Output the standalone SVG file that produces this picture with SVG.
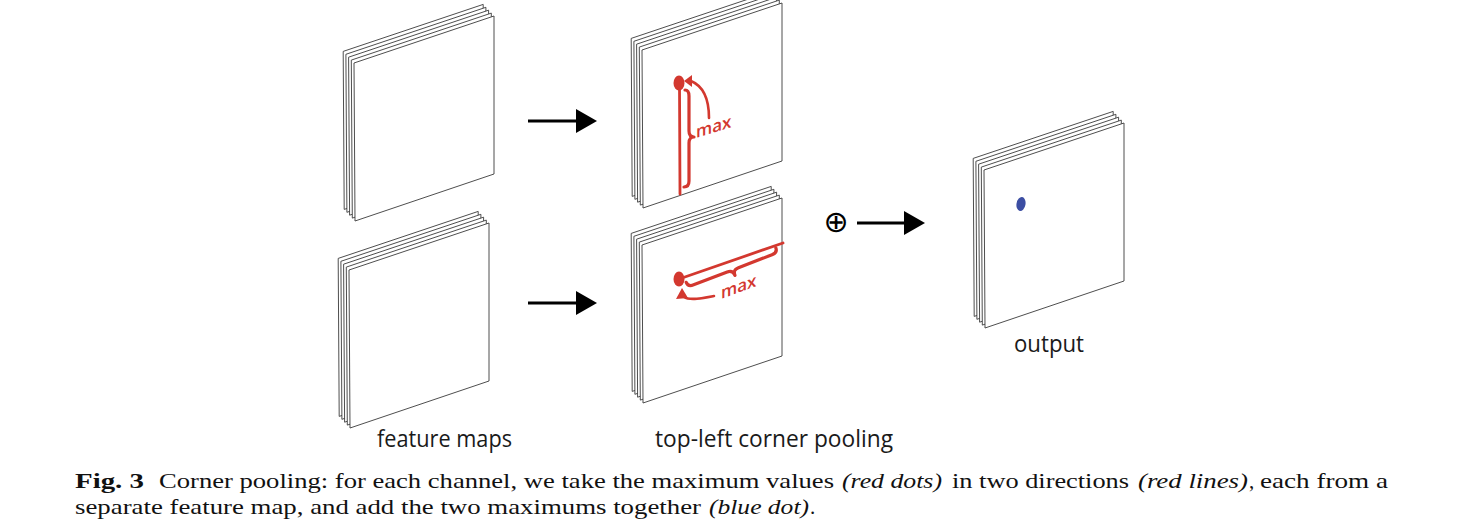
<svg xmlns="http://www.w3.org/2000/svg" xmlns:xlink="http://www.w3.org/1999/xlink" width="1461" height="531" viewBox="0 0 1461 531">
<style>
.sheet{fill:#fff;stroke:#3a3a3a;stroke-width:0.9;stroke-linejoin:miter}
.lbl{font-family:"Open Sans","Noto Sans","Liberation Sans",sans-serif;font-size:24px;fill:#1a1a1a}
.cap{font-family:"Liberation Serif","DejaVu Serif",serif;font-size:21px;fill:#111}
.it{font-style:italic}
.bd{font-weight:bold}
.red{stroke:#d3382f;fill:none;stroke-linecap:round;stroke-linejoin:round}
.redf{fill:#d3382f}
.maxt{font-family:"Open Sans","Noto Sans","Liberation Sans",sans-serif;font-size:17px;font-weight:600;fill:#d3382f}
.conn{stroke:#000;stroke-width:3;fill:none}
</style>
<defs>
<g id="stack">
<polygon class="sheet" points="-10.8,-11.6 -9.8,146.4 129.2,99.4 129.2,-58.6"/>
<polygon class="sheet" points="-8.1,-8.7 -7.1,149.3 131.9,102.3 131.9,-55.7"/>
<polygon class="sheet" points="-5.4,-5.8 -4.4,152.2 134.6,105.2 134.6,-52.8"/>
<polygon class="sheet" points="-2.7,-2.9 -1.7,155.1 137.3,108.1 137.3,-49.9"/>
<polygon class="sheet" points="0,0 1,158 140,111 140,-47"/>
</g>
</defs>
<rect width="1461" height="531" fill="#fff"/>

<g id="feature-maps-top"><use xlink:href="#stack" href="#stack" transform="translate(354,63)"/></g>
<g id="feature-maps-bottom"><use xlink:href="#stack" href="#stack" transform="translate(349,270)"/></g>
<g id="label-feature-maps"><text class="lbl" x="377" y="447" textLength="135" lengthAdjust="spacingAndGlyphs">feature maps</text></g>

<g id="pool-top">
<use xlink:href="#stack" href="#stack" transform="translate(642,50)"/>
<line class="red" x1="679.5" y1="86" x2="680" y2="194" stroke-width="2.8"/>
<ellipse class="redf" cx="679" cy="83" rx="5.5" ry="7.5"/>
<path class="red" stroke-width="3.2" d="M685,90 Q689,90 689,96 L689,131 Q689,137 694,137 Q689,137 689,143 L689,181 Q689,187 684,187"/>
<path class="red" stroke-width="2.6" d="M709,118 C709,98 703,86 691,81"/>
<polygon class="redf" points="684,81 692,75 692,87"/>
<text class="maxt" transform="translate(696,138) skewY(-17)">max</text>
</g>

<g id="pool-bottom">
<use xlink:href="#stack" href="#stack" transform="translate(642,245)"/>
<line class="red" x1="682" y1="278" x2="783" y2="243" stroke-width="2.8"/>
<ellipse class="redf" cx="679" cy="279" rx="5.5" ry="7.5"/>
<path class="red" stroke-width="3.2" transform="translate(688,287) rotate(-21)" d="M0,-5 Q0,0 6,0 L42,0 Q48,0 48,6 Q48,0 54,0 L90,0 Q96,0 96,-5"/>
<path class="red" stroke-width="2.6" d="M714,296 C704,298 690,301 684,297"/>
<polygon class="redf" points="682,288 676,299 688,298"/>
<text class="maxt" transform="translate(721,299) skewY(-20)">max</text>
</g>
<g id="label-pooling"><text class="lbl" x="655" y="447" textLength="238" lengthAdjust="spacingAndGlyphs">top-left corner pooling</text></g>

<g id="output">
<use xlink:href="#stack" href="#stack" transform="translate(984,170)"/>
<ellipse cx="1021" cy="204" rx="4.5" ry="7" fill="#3c4ea3" transform="rotate(10 1021 204)"/>
<text class="lbl" x="1014" y="352" textLength="70" lengthAdjust="spacingAndGlyphs">output</text>
</g>

<g id="connectors">
<line class="conn" x1="528" y1="121" x2="578" y2="121"/>
<polygon points="576,109 597,121 576,133" fill="#000"/>
<line class="conn" x1="528" y1="303" x2="578" y2="303"/>
<polygon points="576,291 597,303 576,315" fill="#000"/>
<text x="836" y="232" text-anchor="middle" font-family="DejaVu Sans, sans-serif" font-size="30" fill="#000">⊕</text>
<line class="conn" x1="857" y1="223" x2="906" y2="223"/>
<polygon points="904,211 925,223 904,235" fill="#000"/>
</g>

<g id="caption">
<text class="cap bd" x="75" y="488" textLength="69" lengthAdjust="spacingAndGlyphs">Fig. 3</text>
<text class="cap" x="159" y="488" textLength="675" lengthAdjust="spacingAndGlyphs">Corner pooling: for each channel, we take the maximum values</text>
<text class="cap it" x="842" y="488" textLength="100" lengthAdjust="spacingAndGlyphs">(red dots)</text>
<text class="cap" x="952" y="488" textLength="177" lengthAdjust="spacingAndGlyphs">in two directions</text>
<text class="cap it" x="1138" y="488" textLength="110" lengthAdjust="spacingAndGlyphs">(red lines)</text>
<text class="cap" x="1249" y="488">,</text>
<text class="cap" x="1260" y="488" textLength="128" lengthAdjust="spacingAndGlyphs">each from a</text>
<text class="cap" x="75" y="514" textLength="626" lengthAdjust="spacingAndGlyphs">separate feature map, and add the two maximums together</text>
<text class="cap it" x="709" y="514" textLength="100" lengthAdjust="spacingAndGlyphs">(blue dot)</text>
<text class="cap" x="810" y="514">.</text>
</g>
</svg>
